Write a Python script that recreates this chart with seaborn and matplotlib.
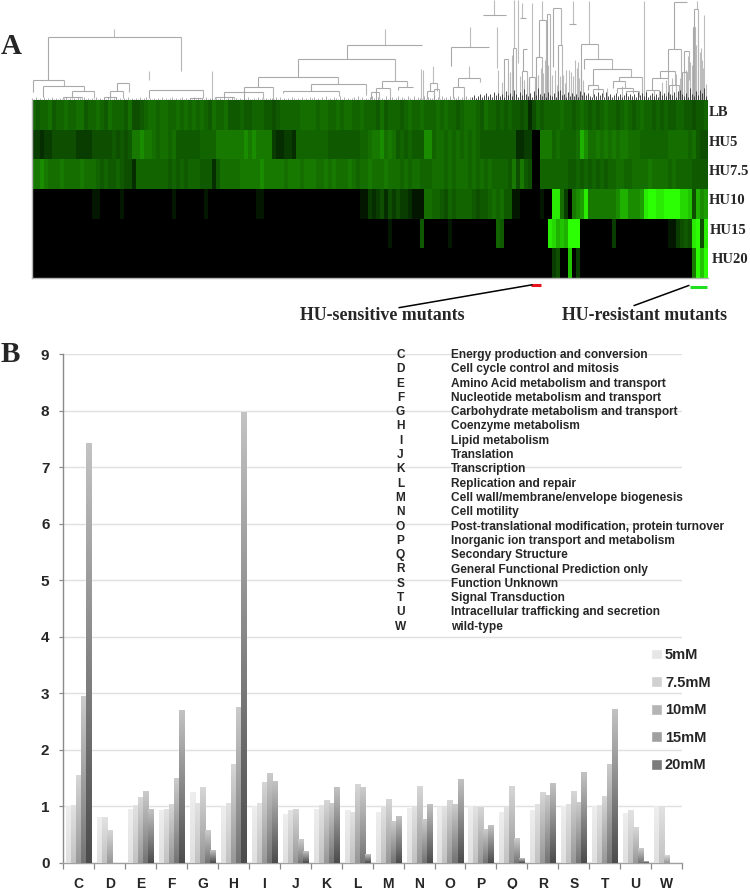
import numpy as np
import pandas as pd
import matplotlib
matplotlib.use("Agg")
import matplotlib.pyplot as plt
from matplotlib.colors import LinearSegmentedColormap
import seaborn as sns

# ----------- Heatmap data (one hex level for every 4 mutants) --------------

row_names = ["LB", "HU5", "HU7.5", "HU10", "HU15", "HU20"]

row_lb = ("6566756676" "6775667657" "6665744567" "7677667676" "7676576675" "5565566655"
          "4566666777" "7677667677" "6676665756" "6656766766" "6767665677" "7657665656"
          "5545246566" "6676656765" "6567665676" "5676656565" "566554556")
row_hu5 = ("3323344444" "4333344444" "5454588988" "7677675555" "5566668888" "8889898888"
           "3223326666" "6666555555" "5566788978" "7565655599" "6776767676" "7655555555"
           "5223300888" "6766667b97" "7878787887" "7766666667" "777767544")
row_hu75 = ("8898777877" "7787776565" "5654426666" "6666565656" "6655525777" "7788888988"
            "8887888788" "8778787778" "7677877787" "7767677666" "7776767776" "7676766665"
            "8485400666" "6666556565" "6565667766" "7777877776" "766665555")
row_hu10 = ("0000000000" "0000011000" "0010000000" "0000010000" "0001000000" "0000001100"
            "0000000000" "0000000000" "0011323424" "3433211177" "6654656666" "5455676755"
            "1100000100" "ee73089ae8" "8888889bb9" "99aeffeeff" "ffddc4b9a")
row_hu15 = ("0000000000" "0000000000" "0000000000" "0000000000" "0000000000" "0000000000"
            "0000000000" "0000000000" "0000000001" "0000000500" "0000100000" "0000006500"
            "000000000e" "dbcbfff000" "0000030000" "0000000001" "13454ef4e")
row_hu20 = ("0000000000" "0000000000" "0000000000" "0000000000" "0000000000" "0000000000"
            "0000000000" "0000000000" "0000000000" "0000000000" "0000000000" "0000000000"
            "0000000000" "3400c03000" "0000000000" "0000000000" "000008fcf")

# ----------- Dendrogram data (mutant position, height) -----------------------

link_left = [16.3, 1.3, 11.3, 40, 30.7, 84.7, 78.3, 72, 117.3, 158, 183, 192, 212.3,
             314.7, 266.3, 226.3, 279.3, 251.3, 350.3, 344, 366, 339, 398.3, 395, 402,
             419.3, 426.3, 420.7, 451.3, 472, 481, 488, 491.3, 489.7, 497.3, 504, 507.3,
             514.7, 521.3, 526.3, 536.7, 548.7, 552, 561.3, 587, 581.3, 584.7, 594, 556.3,
             560.7, 642, 635.7, 627.7, 620.3, 614.3, 637, 651.7, 650, 662.3, 661.3]
link_right = [148.7, 31.7, 51.7, 62, 49.7, 96.7, 90.7, 83.7, 170.7, 170, 201.7, 231, 241.3,
              389.7, 362.7, 306.3, 333.7, 307.3, 374.7, 358, 380.7, 347.3, 404.7, 402, 407,
              457, 448, 432, 474, 476.3, 483.7, 494, 494.7, 494.7, 503.3, 510.3, 513.7,
              517.7, 528.7, 530.3, 544, 565.7, 580, 598.7, 610.3, 592.7, 600.7, 606.7, 566,
              570.7, 654.7, 648.7, 643.3, 635.7, 627, 646.7, 657.3, 655, 666.3, 663.3]
link_top = [63, 20, 14, 9, 3.3, 17, 8.7, 3.3, 10, 2.3, 3.3, 7.7, 12.7,
            54.7, 40.7, 23.3, 16, 8.7, 19, 12.3, 13, 7.7, 17.3, 9.3, 10.7,
            52.7, 22.3, 13.3, 84.7, 41, 51.7, 81.7, 50.7, 29, 23.3, 42.7, 79.7,
            86, 91.7, 55, 75.7, 55.7, 40.7, 30.7, 23.3, 19, 11.7, 9.3, 15,
            10.7, 97.7, 50.7, 29.3, 21.7, 10, 15, 49.3, 27.7, 90.7, 73.3]
base_left = [20, 8, 3, 2, 1, 8.7, 2, 1, 2, 1, 1, 3, 0,
             40.7, 23.3, 12.7, 8.7, 6.7, 12.3, 0, 10, 1, 9.3, 1, 1,
             34, 13.3, 2, 84.7, 0, 0, 81.7, 29, 1, 0, 1, 42.7,
             0, 33, 0, 75.7, 3, 30.7, 15, 19, 11.7, 7, 3, 10,
             3, 50.7, 21.7, 21.7, 10, 0, 1, 27.7, 0, 0, 0]
base_right = [29, 14, 9, 2, 1, 8, 2, 1, 2, 1, 1, 1, 0,
              54.7, 19, 16, 5, 4, 13, 0, 12.7, 1, 9.3, 1, 1,
              52.7, 17.7, 1, 84.7, 0, 1, 81.7, 50.7, 1, 0, 3, 0,
              0, 55, 0, 75.7, 40.7, 30.7, 23.3, 0, 11.7, 7, 3, 10,
              3, 97.7, 0, 15, 0, 0, 1, 20, 0, 0, 0]

stem_col = [82, 117.3, 180.3, 352.7, 389, 390.5, 401.3, 438.3, 437.3, 462.3, 464.7, 466,
            482.3, 485.7, 490.3, 500.3, 510.3, 540.7, 557.3, 612, 664.7, 669.3, 672,
            476, 480, 492, 497, 506, 513, 516, 520, 525, 531, 534, 537, 543, 546, 549,
            575, 590, 622, 630, 640, 652, 658, 660, 668, 674,
            470, 478, 488, 495, 503, 509, 511, 518, 523, 528, 533, 539, 541, 545, 547, 551,
            634, 644, 648, 654, 656, 662, 664, 666, 670, 671]
stem_low = [63, 20, 0, 54.7, 0, 0, 17.3, 52.7, 22.3, 84.7, 31.7, 0,
            51.7, 36.7, 81.7, 23.3, 79.7, 75.7, 55.7, 0, 90.7, 0, 0,
            0, 0, 0, 0, 0, 0, 0, 0, 0, 0, 0, 0, 0, 0, 0,
            0, 0, 0, 0, 0, 0, 0, 0, 0, 0,
            0, 0, 0, 0, 0, 0, 0, 0, 0, 0, 0, 0, 0, 0, 0, 0,
            0, 0, 0, 0, 0, 0, 0, 0, 0, 0]
stem_high = [71, 29, 29, 71, 31, 30, 34, 73.3, 34, 100, 72.7, 30,
             100, 100, 96.7, 96.7, 99, 99, 99, 99, 99, 52, 85,
             25, 45, 20, 22, 25, 40, 35, 25, 15, 25, 30, 30, 40, 38, 30,
             12, 14, 10, 18, 22, 28, 38, 35, 48, 16,
             18, 28, 24, 16, 19, 32, 27, 21, 30, 24, 17, 28, 24, 32, 22, 20,
             20, 26, 22, 30, 44, 42, 55, 60, 40, 32]

# one leaf tuft height for every 2 mutants
tuft_left = ("2131213121" "3121212312" "1213213121" "2131212132" "1231212131" "2121312312"
             "1212131212" "3121231212" "1312121312" "2121213121" "3121212131" "1213121212")
tuft_mid = ("2131312121" "3212131213" "2312131412" "1321413121" "2314131213" "4213121412"
            "3124132142" "1413214132" "2413142314" "1324132413")
tuft_right = ("3524635746" "3857463957" "4a6385b647" "395c647385" "4739a56384" "7463958574"
              "3648573846" "3574635746" "4638574835" "7463957486" "5839a6473c" "6495a7c486")

# ----------- Bar chart data --------------------------------------------------

categories = ["C", "D", "E", "F", "G", "H", "I", "J", "K", "L",
              "M", "N", "O", "P", "Q", "R", "S", "T", "U", "W"]
doses = ["5mM", "7.5mM", "10mM", "15mM", "20mM"]

mm5 = [1.00, 0.81, 0.95, 0.93, 1.25, 0.98, 1.00, 0.85, 0.95, 0.92,
       0.90, 0.96, 0.98, 1.00, 0.90, 0.92, 1.00, 1.00, 0.87, 1.00]
mm75 = [1.01, 0.80, 1.02, 0.95, 1.05, 1.05, 1.05, 0.93, 1.02, 0.90,
        1.00, 1.00, 1.00, 1.00, 1.00, 1.03, 1.03, 1.02, 0.93, 1.00]
mm10 = [1.55, 0.58, 1.16, 1.03, 1.33, 1.75, 1.42, 0.95, 1.10, 1.39,
        1.13, 1.35, 1.10, 0.98, 1.35, 1.24, 1.27, 1.18, 0.63, 0.13]
mm15 = [2.95, 0.00, 1.27, 1.50, 0.58, 2.75, 1.59, 0.42, 1.05, 1.34,
        0.73, 0.77, 1.04, 0.60, 0.43, 1.20, 1.07, 1.74, 0.25, 0.00]
mm20 = [7.42, 0.00, 0.95, 2.69, 0.22, 7.97, 1.44, 0.20, 1.34, 0.15,
        0.82, 1.03, 1.48, 0.67, 0.08, 1.40, 1.60, 2.72, 0.03, 0.00]

descriptions = ["Energy production and conversion", "Cell cycle control and mitosis",
                "Amino Acid metabolism and transport", "Nucleotide metabolism and transport",
                "Carbohydrate metabolism and transport", "Coenzyme metabolism",
                "Lipid metabolism", "Translation", "Transcription", "Replication and repair",
                "Cell wall/membrane/envelope biogenesis", "Cell motility",
                "Post-translational modification, protein turnover",
                "Inorganic ion transport and metabolism", "Secondary Structure",
                "General Functional Prediction only", "Function Unknown", "Signal Transduction",
                "Intracellular trafficking and secretion", "wild-type"]

bar_top_colors = ["#eeeeee", "#e2e2e2", "#d6d6d6", "#cbcbcb", "#c2c2c2"]
bar_low_colors = ["#e0e0e0", "#c2c2c2", "#989898", "#747474", "#4c4c4c"]

# ----------- Figure --------------------------------------------------------

sns.set_style("white")
plt.rcParams["font.family"] = ["Liberation Sans", "DejaVu Sans"]

W, H = 750, 889
N_COLS = 676
fig = plt.figure(figsize=(W / 100, H / 100), dpi=100)


def px_axes(left, top, right, bottom):
    return fig.add_axes([left / W, 1 - bottom / H, (right - left) / W, (bottom - top) / H])


def expand(levels):
    vals = np.array([int(c, 16) for c in levels], dtype=float)
    idx = (np.arange(N_COLS) * len(vals) / N_COLS).astype(int)
    return vals[idx]


# ----------- Panel A: dendrogram ---------------------------------------------

ax_tree = px_axes(32, 0, 708, 100)
ax_tree.vlines(stem_col, stem_low, stem_high, color="#bcbcbc", lw=0.8)
ax_tree.vlines(link_left, base_left, link_top, color="#a9a9a9", lw=0.8)
ax_tree.vlines(link_right, base_right, link_top, color="#b5b5b5", lw=0.8)
ax_tree.hlines(link_top, link_left, link_right, color="#a9a9a9", lw=0.8)

tufts = tuft_left + tuft_mid
tuft_cols = np.arange(len(tufts)) * 2
tuft_vals = [int(c, 16) for c in tufts]
ax_tree.vlines(tuft_cols, 0, tuft_vals, color="#8c8c8c", lw=0.5)
right_cols = 440 + np.arange(len(tuft_right)) * 2
ax_tree.vlines(right_cols, 0, [int(c, 16) for c in tuft_right], color="#2c2c2c", lw=0.6)
ax_tree.set_xlim(0, N_COLS)
ax_tree.set_ylim(0, 100)
ax_tree.axis("off")

# ----------- Panel A: heatmap ------------------------------------------------

greens = LinearSegmentedColormap.from_list(
    "greens", [(0, "#000000"), (0.13, "#062c00"), (0.27, "#0d4f00"), (0.4, "#126400"),
               (0.53, "#177800"), (0.73, "#1fb000"), (1, "#2cff04")])
heat = pd.DataFrame([expand(r) for r in [row_lb, row_hu5, row_hu75, row_hu10, row_hu15, row_hu20]],
                    index=row_names)
ax_heat = px_axes(32, 100, 708, 278)
sns.heatmap(heat, cmap=greens, vmin=0, vmax=15, cbar=False, xticklabels=False,
            yticklabels=False, ax=ax_heat, rasterized=True)
for side in ["bottom", "left"]:
    ax_heat.spines[side].set_visible(True)
    ax_heat.spines[side].set_color("#b4b4b4")
    ax_heat.spines[side].set_linewidth(1)

label_x = [677, 677, 677, 677, 678, 680]
label_y = [0.42, 1.42, 2.42, 3.39, 4.41, 5.38]
for name, x, y in zip(row_names, label_x, label_y):
    ax_heat.text(x, y, name, family="Liberation Serif", weight="bold", fontsize=10.5,
                 va="center", ha="left", clip_on=False)

ax_heat.plot([499, 509], [6.23, 6.23], color="#e8141c", lw=2.2, clip_on=False, solid_capstyle="butt")
ax_heat.plot([658, 675], [6.32, 6.32], color="#1fe01f", lw=2.2, clip_on=False, solid_capstyle="butt")
ax_heat.plot([367, 500], [7.0, 6.23], color="black", lw=1.1, clip_on=False)
ax_heat.plot([602, 657], [6.93, 6.25], color="black", lw=1.1, clip_on=False)

fig.text(382 / W, 1 - 315 / H, "HU-sensitive mutants", family="Liberation Serif", weight="bold",
         fontsize=12.9, ha="center", va="center")
fig.text(645 / W, 1 - 315 / H, "HU-resistant mutants", family="Liberation Serif", weight="bold",
         fontsize=12.9, ha="center", va="center")
fig.text(1 / W, 1 - 47 / H, "A", family="Liberation Serif", weight="bold", fontsize=21, va="center")
fig.text(1 / W, 1 - 355 / H, "B", family="Liberation Serif", weight="bold", fontsize=21, va="center")

# ----------- Panel B: bars ---------------------------------------------------

ax_bar = px_axes(63.3, 354, 682, 862.7)
df = pd.DataFrame({"category": categories, "5mM": mm5, "7.5mM": mm75, "10mM": mm10,
                   "15mM": mm15, "20mM": mm20})
long_df = df.melt(id_vars="category", var_name="dose", value_name="value")
sns.barplot(data=long_df, x="category", y="value", hue="dose", hue_order=doses, order=categories,
            palette=dict(zip(doses, ["#e6e6e6", "#d0d0d0", "#b4b4b4", "#a0a0a0", "#7c7c7c"])),
            width=0.81, gap=0, saturation=1, ax=ax_bar, zorder=2)

# every bar fades from dark at the bottom to light at the top
fade = np.linspace(1, 0, 64).reshape(-1, 1)
for container, low, top in zip(ax_bar.containers, bar_low_colors, bar_top_colors):
    cmap = LinearSegmentedColormap.from_list("fade", [low, top])
    for bar in container:
        if bar.get_height() <= 0:
            continue
        x0 = bar.get_x()
        ax_bar.imshow(fade, extent=[x0, x0 + bar.get_width(), 0, bar.get_height()], cmap=cmap,
                      vmin=0, vmax=1, aspect="auto", interpolation="bilinear", zorder=3)

ax_bar.set_xlim(-0.5, 19.5)
ax_bar.set_ylim(0, 9)
ax_bar.set_xlabel("")
ax_bar.set_ylabel("")
ax_bar.set_yticks(range(10))
ax_bar.set_yticklabels(range(10), weight="bold", fontsize=11)
ax_bar.set_xticks(range(20))
ax_bar.set_xticklabels(categories, weight="bold", fontsize=10)
ax_bar.set_xticks(np.arange(-0.5, 20), minor=True)
ax_bar.tick_params(axis="x", which="major", length=0, pad=10)
ax_bar.tick_params(axis="x", which="minor", length=4, width=0.9, color="#8a8a8a", bottom=True)
ax_bar.tick_params(axis="y", length=3, width=0.9, color="#8a8a8a", left=True, pad=7)
ax_bar.grid(axis="y", color="#e0e0e0", lw=1, zorder=0)
ax_bar.set_axisbelow(True)
sns.despine(ax=ax_bar, top=True, right=True)
ax_bar.spines["left"].set_color("#8a8a8a")
ax_bar.spines["bottom"].set_color("#a0a0a0")
ax_bar.spines["left"].set_linewidth(1)
ax_bar.spines["bottom"].set_linewidth(1)

sns.move_legend(ax_bar, "upper left", bbox_to_anchor=(638 / W, 1 - 635 / H),
                bbox_transform=fig.transFigure, frameon=False, title=None,
                handlelength=0.75, handleheight=0.75, handletextpad=0.2, labelspacing=0.93,
                prop={"weight": "bold", "size": 10.5})

for i, (code, text) in enumerate(zip(categories, descriptions)):
    y = 1 - (355 + i * 14.3) / H
    fig.text(400.5 / W, y, code, weight="bold", fontsize=8.6, ha="center", va="center")
    fig.text(450.7 / W, y, text, weight="bold", fontsize=8.6, ha="left", va="center")

fig.savefig("out.png", dpi=100)
